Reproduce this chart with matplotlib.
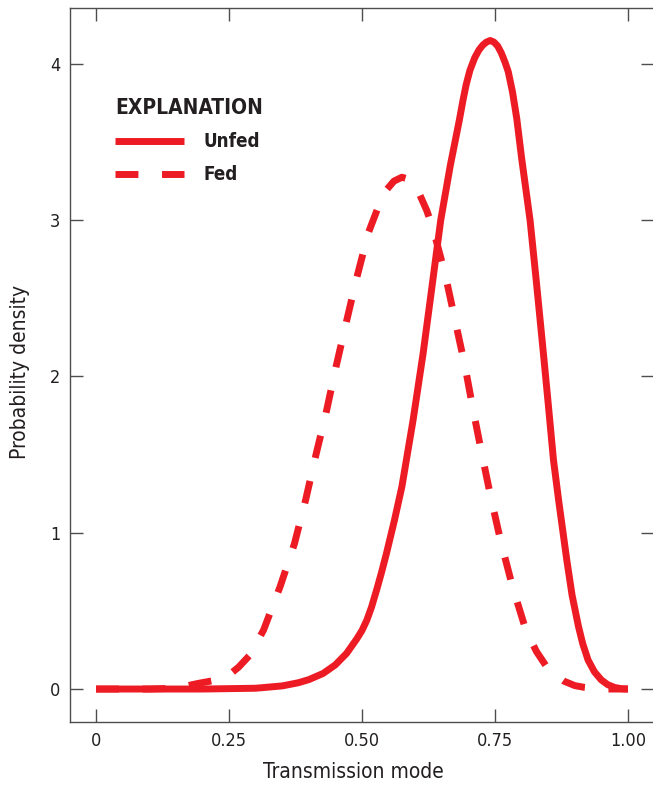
import matplotlib
matplotlib.use("Agg")
import matplotlib.pyplot as plt

plt.rcParams['font.family'] = ['DejaVu Sans']
plt.rcParams['font.stretch'] = 'condensed'

# density curves
unfed_x = [0.0, 0.10, 0.20, 0.30, 0.35, 0.38, 0.40, 0.427, 0.45, 0.46, 0.471, 0.49,
           0.50, 0.509, 0.518, 0.528, 0.537, 0.546, 0.561, 0.575, 0.596, 0.615, 0.631,
           0.648, 0.666, 0.683, 0.69, 0.696, 0.703, 0.712, 0.72, 0.727, 0.734, 0.741,
           0.748, 0.755, 0.762, 0.769, 0.775, 0.783, 0.791, 0.80, 0.816, 0.828, 0.841,
           0.85, 0.860, 0.87, 0.885, 0.895, 0.907, 0.915, 0.925, 0.937, 0.95, 0.962,
           0.975, 0.988, 1.0]
unfed_y = [0.0, 0.0, 0.0, 0.005, 0.02, 0.04, 0.06, 0.10, 0.155, 0.19, 0.228, 0.32,
           0.375, 0.44, 0.525, 0.64, 0.75, 0.868, 1.08, 1.295, 1.72, 2.15, 2.56,
           3.0, 3.35, 3.64, 3.77, 3.87, 3.96, 4.04, 4.09, 4.12, 4.14, 4.15,
           4.14, 4.115, 4.07, 4.01, 3.95, 3.82, 3.65, 3.40, 3.0, 2.6, 2.15,
           1.83, 1.466, 1.2, 0.826, 0.6, 0.40, 0.29, 0.186, 0.11, 0.058, 0.028,
           0.01, 0.002, 0.0]

fed_x = [0.0, 0.10, 0.15, 0.192, 0.23, 0.25, 0.268, 0.29, 0.315, 0.346, 0.373, 0.394,
         0.4135, 0.432, 0.451, 0.470, 0.490, 0.512, 0.53, 0.545, 0.56, 0.575, 0.59,
         0.60, 0.609, 0.622, 0.634, 0.656, 0.675, 0.694, 0.709, 0.725, 0.742, 0.761,
         0.783, 0.808, 0.828, 0.847, 0.865, 0.88, 0.90, 0.919, 0.95, 1.0]
fed_y = [0.0, 0.0, 0.005, 0.036, 0.06, 0.09, 0.14, 0.22, 0.378, 0.655, 0.93, 1.21,
         1.50, 1.76, 2.06, 2.34, 2.63, 2.92, 3.08, 3.19, 3.25, 3.275, 3.26,
         3.22, 3.16, 3.06, 2.94, 2.66, 2.36, 2.06, 1.785, 1.51, 1.23, 0.943,
         0.655, 0.378, 0.24, 0.143, 0.085, 0.05, 0.022, 0.01, 0.0, 0.0]

xticks = [0, 0.25, 0.50, 0.75, 1.00]
xtick_labels = ['0', '0.25', '0.50', '0.75', '1.00']
yticks = [0, 1, 2, 3, 4]

red = '#ed1c24'
ink = '#231f20'

fig = plt.figure(figsize=(6.53, 7.87), dpi=100)
ax = fig.add_axes([70 / 653, 65 / 787, 584 / 653, 714 / 787])

ax.plot(unfed_x, unfed_y, color=red, lw=5, solid_capstyle='butt',
        solid_joinstyle='round', label='Unfed')
ax.plot(fed_x, fed_y, color=red, lw=5, linestyle=(0, (3.3, 3.4)),
        dash_capstyle='butt', label='Fed')

ax.set_xlim(-0.049, 1.049)
ax.set_ylim(-0.211, 4.358)
ax.set_xticks(xticks)
ax.set_xticklabels(xtick_labels)
ax.set_yticks(yticks)

for s in ax.spines.values():
    s.set_color('#4d4d4d')
    s.set_linewidth(1.0)
ax.tick_params(direction='in', length=9.5, width=1.0, color='#4d4d4d',
               top=True, right=True, labelsize=13, labelcolor=ink)
ax.tick_params(axis='x', pad=7)
ax.tick_params(axis='y', pad=7)

ax.set_xlabel('Transmission mode', fontsize=15, color=ink)
ax.set_ylabel('Probability density', fontsize=15, color=ink)
ax.xaxis.set_label_coords(0.485, -0.056)
ax.yaxis.set_label_coords(-0.068, 0.49)

ax.text(0.077, 0.852, 'EXPLANATION', transform=ax.transAxes, fontsize=15,
        fontweight='bold', color=ink, va='baseline', ha='left')
leg = ax.legend(loc='upper left', bbox_to_anchor=(0.077, 0.826), frameon=False,
                prop={'size': 13.5, 'weight': 'bold'},
                handlelength=3.7, handletextpad=1.0, labelspacing=0.75,
                borderaxespad=0, borderpad=0)
for t in leg.get_texts():
    t.set_color(ink)

fig.savefig('out.png', dpi=100)
